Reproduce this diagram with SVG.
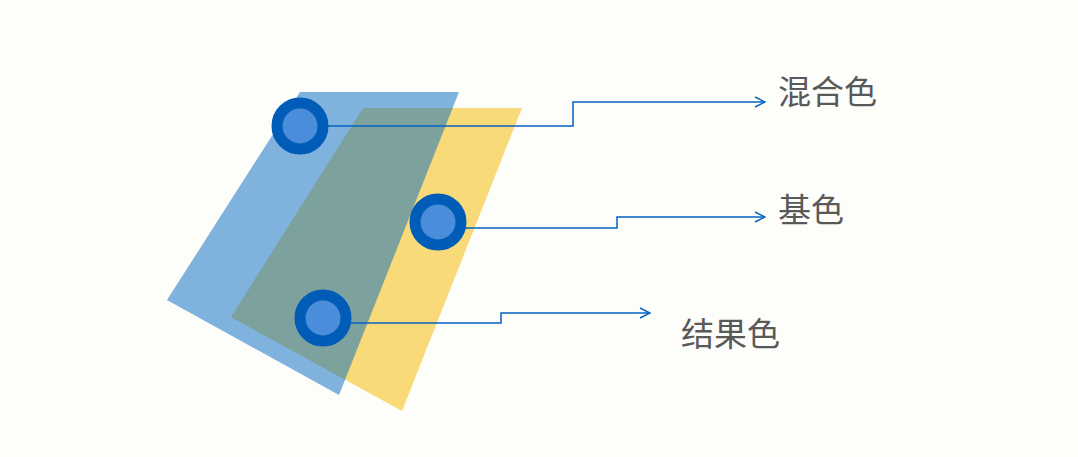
<svg xmlns="http://www.w3.org/2000/svg" width="1078" height="457" viewBox="0 0 1078 457">
<defs>
<style>
.lbl{font-family:"Noto Sans CJK SC","Noto Sans",sans-serif;font-size:33px;fill:#595959}
.ring{fill:#4A8EDB;stroke:#005DB7;stroke-width:11}
.conn{fill:none;stroke:#0563C1;stroke-width:1.5}
</style>
<marker id="arr" viewBox="0 0 12 12" refX="11" refY="6" markerWidth="12" markerHeight="12" markerUnits="userSpaceOnUse" orient="auto">
<path d="M1,1 L11,6 L1,11" fill="none" stroke="#0563C1" stroke-width="1.5"/>
</marker>
</defs>
<rect width="1078" height="457" fill="#FDFDF9"/>
<g id="base-plane"><polygon points="363,108 522,108 402,411 231,317" fill="#F9DA78"/></g>
<g id="blend-plane"><polygon points="300,92 459,92 339,395 167,300" fill="#0167C2" fill-opacity="0.5"/></g>
<g id="connectors">
<polyline class="conn" points="326,126 573,126 573,102 765,102" marker-end="url(#arr)"/>
<polyline class="conn" points="464,228 617,228 617,217 765,217" marker-end="url(#arr)"/>
<polyline class="conn" points="349,323 501,323 501,313 650,313" marker-end="url(#arr)"/>
</g>
<g id="node-blend"><circle class="ring" cx="300" cy="126" r="23"/><text class="lbl" x="778" y="104">混合色</text></g>
<g id="node-base"><circle class="ring" cx="438" cy="222" r="23"/><text class="lbl" x="778" y="222">基色</text></g>
<g id="node-result"><circle class="ring" cx="323" cy="318" r="23"/><text class="lbl" x="681" y="346">结果色</text></g>
</svg>
